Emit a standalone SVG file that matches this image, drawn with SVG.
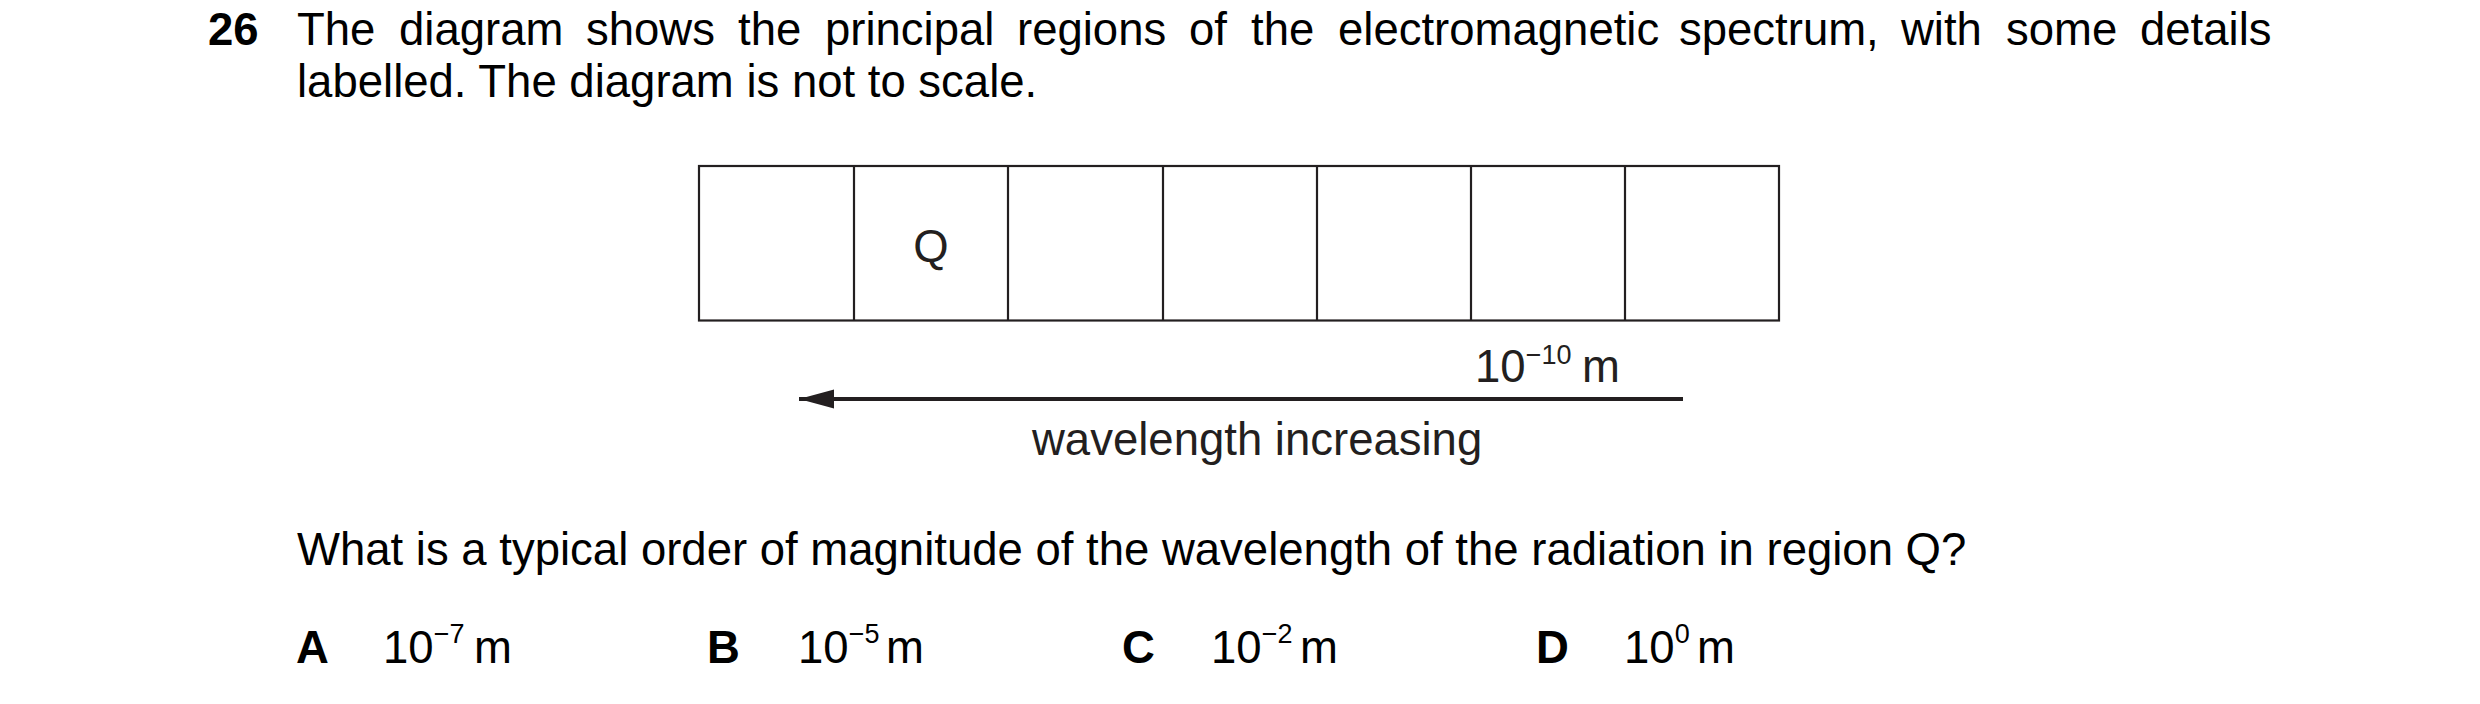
<svg xmlns="http://www.w3.org/2000/svg" width="2480" height="704" viewBox="0 0 2480 704">
<defs>
<style>
.t{font-family:"Liberation Sans",Arial,sans-serif;font-size:45.5px;fill:#000}
.b{font-family:"Liberation Sans",Arial,sans-serif;font-size:45.5px;font-weight:bold;fill:#000}
.d{font-family:"Liberation Sans",Arial,sans-serif;font-size:45.5px;fill:#231f20}
.sup{font-size:27px}
.box{fill:#fff;stroke:#231f20;stroke-width:2.2}
.div{stroke:#231f20;stroke-width:2.2}
.arrow{stroke:#231f20;stroke-width:4;fill:none}
</style>
<marker id="ah" markerUnits="userSpaceOnUse" markerWidth="36" markerHeight="20" refX="35" refY="9.5" orient="auto">
<path d="M0,0 L35,9.5 L0,19 z" fill="#231f20"/>
</marker>
</defs>
<rect width="2480" height="704" fill="#fff"/>
<g id="question">
<text class="b" x="208" y="45">26</text>
<text class="t" y="45"><tspan x="297">The</tspan> <tspan x="399">diagram</tspan> <tspan x="586">shows</tspan> <tspan x="738">the</tspan> <tspan x="825">principal</tspan> <tspan x="1017">regions</tspan> <tspan x="1189">of</tspan> <tspan x="1251">the</tspan> <tspan x="1338">electromagnetic</tspan> <tspan x="1679">spectrum,</tspan> <tspan x="1901">with</tspan> <tspan x="2006">some</tspan> <tspan x="2140">details</tspan></text>
<text class="t" x="297" y="97">labelled. The diagram is not to scale.</text>
</g>
<g id="spectrum">
<rect class="box" x="699" y="166" width="1080" height="154.5"/>
<line class="div" x1="854" y1="166" x2="854" y2="320.5"/>
<line class="div" x1="1008" y1="166" x2="1008" y2="320.5"/>
<line class="div" x1="1163" y1="166" x2="1163" y2="320.5"/>
<line class="div" x1="1317" y1="166" x2="1317" y2="320.5"/>
<line class="div" x1="1471" y1="166" x2="1471" y2="320.5"/>
<line class="div" x1="1625" y1="166" x2="1625" y2="320.5"/>
</g>
<g id="regionQ">
<text class="d" x="931" y="262" text-anchor="middle">Q</text>
</g>
<g id="label-1e-10">
<text class="d" x="1475" y="382">10<tspan class="sup" dy="-18">−10</tspan><tspan x="1582" dy="18">m</tspan></text>
</g>
<g id="connectors">
<path class="arrow" d="M1683,399 L799,399" marker-end="url(#ah)"/>
</g>
<g id="arrow-label">
<text class="d" x="1032" y="455">wavelength increasing</text>
</g>
<g id="prompt">
<text class="t" x="297" y="565">What is a typical order of magnitude of the wavelength of the radiation in region Q?</text>
</g>
<g id="options">
<text class="b" x="296" y="663">A</text>
<text class="t" x="383" y="663">10<tspan class="sup" dy="-20">−7</tspan><tspan x="474" dy="20">m</tspan></text>
<text class="b" x="707" y="663">B</text>
<text class="t" x="798" y="663">10<tspan class="sup" dy="-20">−5</tspan><tspan x="886" dy="20">m</tspan></text>
<text class="b" x="1122" y="663">C</text>
<text class="t" x="1211" y="663">10<tspan class="sup" dy="-20">−2</tspan><tspan x="1300" dy="20">m</tspan></text>
<text class="b" x="1536" y="663">D</text>
<text class="t" x="1624" y="663">10<tspan class="sup" dy="-20">0</tspan><tspan x="1697" dy="20">m</tspan></text>
</g>
</svg>
